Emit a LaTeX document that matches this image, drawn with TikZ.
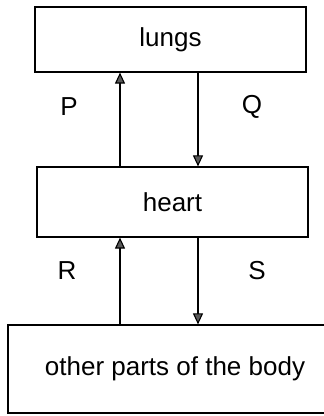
\documentclass[tikz,border=0pt]{standalone}
\usepackage{fontspec}
\setmainfont{Liberation Sans}
\usetikzlibrary{arrows.meta}
\begin{document}
\begin{tikzpicture}[x=1pt,y=1pt,
  box/.style={draw=black,line width=1.2pt,inner sep=0pt,font=\fontsize{26}{31}\selectfont},
  lbl/.style={font=\fontsize{26}{31}\selectfont,inner sep=0pt},
  arr/.style={line width=1.1pt,-{Triangle[width=10pt,length=11pt,fill=gray!70!black]}}]
\clip (0,0) rectangle (324,416);
\useasboundingbox (0,0) rectangle (324,416);
\node[box,minimum width=271pt,minimum height=65pt] (lungs) at (170.5,376.5) {lungs};
\node[box,minimum width=271pt,minimum height=70pt] (heart) at (172.5,214) {heart};
\node[box,minimum width=334pt,minimum height=88pt] (body) at (175,47) {other parts of the body};
\coordinate (xL) at (120,0);
\coordinate (xR) at (198,0);
\draw[arr] (heart.north -| xL) -- (lungs.south -| xL);
\draw[arr] (lungs.south -| xR) -- (heart.north -| xR);
\draw[arr] (body.north -| xL) -- (heart.south -| xL);
\draw[arr] (heart.south -| xR) -- (body.north -| xR);
\node[lbl] (P) at (69,309) {P};
\node[lbl] (Q) at (252,309) {Q};
\node[lbl] (R) at (67,145) {R};
\node[lbl] (S) at (257,145) {S};
\end{tikzpicture}
\end{document}
